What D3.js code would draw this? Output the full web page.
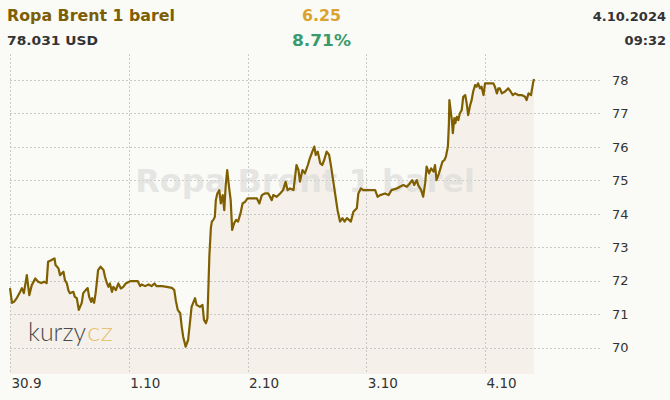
<!DOCTYPE html>
<html><head><meta charset="utf-8">
<script src="https://cdn.jsdelivr.net/npm/d3@7"></script>
<style>
html,body{margin:0;padding:0;background:#fafaf6;}
svg{display:block;}
text{font-family:"DejaVu Sans",Verdana,sans-serif;}
</style></head>
<body>
<svg id="c" width="670" height="400"></svg>
<script>
// ---- data ----
const title = "Ropa Brent 1 barel";
const priceLabel = "78.031 USD";
const changeAbs = "6.25";
const changePct = "8.71%";
const dateLabel = "4.10.2024";
const timeLabel = "09:32";
const xTickLabels = ["30.9","1.10","2.10","3.10","4.10"];
const yTickValues = [70,71,72,73,74,75,76,77,78];
// hours since 30.9.2024 00:00
const hours = [0,0.4,0.8,1.4,2.0,2.4,2.8,3.4,3.9,4.4,5.1,5.7,6.3,6.9,7.4,7.7,8.4,9.0,9.2,9.8,10.1,10.8,11.1,11.5,11.8,12.1,12.8,13.1,13.5,13.9,14.5,14.8,15.3,15.7,16.0,16.4,16.6,17.0,17.3,17.6,17.8,18.3,18.9,19.2,19.5,19.9,20.2,20.6,20.9,21.4,21.9,22.4,22.9,23.4,24.3,25.8,26.3,26.6,27.3,28.0,28.6,29.2,29.6,30.7,31.7,32.7,33.2,33.5,33.9,34.4,34.7,35.0,35.5,36.0,36.7,37.4,37.7,38.4,38.9,39.2,39.6,39.9,40.3,40.6,40.8,41.1,41.4,41.6,41.9,42.3,42.6,43.0,43.3,43.6,43.9,44.3,44.6,44.9,45.3,45.7,46.1,46.6,47.0,47.5,48.0,49.9,50.4,50.9,51.5,52.2,52.9,53.2,53.9,54.6,55.2,55.7,56.1,56.6,57.3,57.9,58.3,58.6,59.1,59.6,60.2,60.6,61.1,61.5,61.8,62.2,62.7,63.1,63.5,64.0,64.5,64.9,65.3,65.8,66.2,66.7,67.2,67.6,68.1,68.5,68.9,69.4,70.1,70.4,70.9,71.4,73.8,74.3,74.8,75.8,76.5,77.1,78.2,78.8,79.5,80.2,80.8,81.3,81.7,82.2,82.5,83.1,83.5,83.9,84.2,84.7,85.1,85.6,85.9,86.2,86.7,87.1,87.4,87.8,88.1,88.5,88.7,88.8,89.3,89.5,89.8,90.0,90.3,90.6,90.9,91.3,91.6,92.0,92.3,92.6,93.0,93.3,93.6,94.0,94.3,94.6,95.0,95.3,95.7,96.0,97.7,98.0,98.4,98.7,99.0,99.4,100.0,100.7,101.2,101.6,102.1,102.7,103.4,104.1,104.4,104.8,105.3,105.7,105.9];
const prices = [71.78,71.34,71.37,71.49,71.66,71.78,71.63,72.17,71.57,71.87,72.07,71.97,71.93,71.97,71.93,72.57,72.62,72.67,72.47,72.37,72.17,72.27,72.02,71.92,71.72,71.63,71.67,71.52,71.48,71.13,71.34,71.63,71.72,71.78,71.52,71.37,71.48,71.34,71.63,72.02,72.32,72.42,72.32,72.12,71.97,71.82,71.92,71.67,71.82,71.72,71.92,71.77,71.82,71.92,71.99,71.99,71.84,71.89,71.84,71.89,71.84,71.92,71.84,71.84,71.82,71.79,71.72,71.42,71.13,71.03,70.63,70.33,70.03,70.23,71.22,71.48,71.28,71.22,71.28,70.83,70.73,70.88,72.77,73.58,73.77,73.82,73.91,74.41,74.61,74.71,74.31,74.56,74.11,74.86,75.31,74.76,74.41,73.52,73.72,73.82,73.77,74.02,74.31,74.36,74.46,74.46,74.31,74.56,74.61,74.61,74.41,74.56,74.51,74.61,74.71,74.96,74.71,74.76,74.71,75.46,75.31,74.96,75.31,75.21,75.46,75.66,75.86,76.01,75.76,75.86,75.51,75.46,75.61,75.86,75.76,75.41,75.01,74.51,74.11,73.77,73.87,73.77,73.87,73.82,73.77,74.06,74.17,74.61,74.76,74.71,74.71,74.51,74.56,74.61,74.56,74.71,74.76,74.81,74.86,74.81,74.91,75.01,74.86,75.01,74.86,74.71,74.51,74.91,75.41,75.21,75.36,75.26,75.46,75.01,75.21,75.41,75.56,75.61,75.71,76.01,76.66,77.40,76.80,76.41,76.86,76.71,76.90,76.80,77.00,77.10,77.50,77.55,77.30,76.95,77.25,77.40,77.65,77.85,77.80,77.90,77.75,77.80,77.55,77.90,77.90,77.80,77.60,77.75,77.75,77.60,77.65,77.75,77.65,77.55,77.60,77.55,77.55,77.50,77.40,77.60,77.55,77.90,78.03];

// ---- layout ----
const svg = d3.select("#c");
const W = 670, H = 400;
const left = 10, dayW = 118.75, plotTop = 54, plotBottom = 374, gridRight = 600;
const t0 = new Date(2024, 8, 30);
const data = hours.map((h, i) => ({t: new Date(t0.getTime() + h * 3600e3), v: prices[i]}));

const x = d3.scaleTime().domain([t0, d3.timeDay.offset(t0, 5)]).range([left, left + 5 * dayW]);
const y = d3.scaleLinear().domain([70, 78]).range([347.7, 80]);

svg.append("rect").attr("width", W).attr("height", H).attr("fill", "#fafaf6");

// area fill
const area = d3.area().x(d => x(d.t)).y0(plotBottom).y1(d => y(d.v));
svg.append("path").datum(data).attr("d", area).attr("fill", "#f5f1ea");

// grid
const dayTicks = xTickLabels.map((_, i) => d3.timeDay.offset(t0, i));
svg.append("g").selectAll("line").data(yTickValues).join("line")
  .attr("x1", left).attr("x2", gridRight)
  .attr("y1", d => Math.round(y(d)) + 0.5).attr("y2", d => Math.round(y(d)) + 0.5)
  .attr("stroke", "#c9c9c6").attr("stroke-dasharray", "2,2").attr("stroke-width", 1);
svg.append("g").selectAll("line").data(dayTicks).join("line")
  .attr("x1", d => Math.round(x(d)) + 0.5).attr("x2", d => Math.round(x(d)) + 0.5)
  .attr("y1", plotTop).attr("y2", plotBottom)
  .attr("stroke", "#c9c9c6").attr("stroke-dasharray", "2,2").attr("stroke-width", 1);

// watermark
svg.append("text").text(title).attr("x", 305).attr("y", 192)
  .attr("text-anchor", "middle").attr("font-size", 32).attr("font-weight", "bold")
  .attr("fill", "#d8d8d6").attr("fill-opacity", 0.6);

// logo
svg.append("text").text("kurzy").attr("x", 28).attr("y", 341)
  .attr("font-weight", 300).attr("font-size", 25)
  .attr("fill", "#4a4a4a").attr("textLength", 58).attr("lengthAdjust", "spacingAndGlyphs")
  .style("font-family", "Lato");
svg.append("text").text("cz").attr("x", 87).attr("y", 341)
  .attr("font-weight", 300).attr("font-size", 25)
  .attr("fill", "#e6c274").attr("textLength", 26).attr("lengthAdjust", "spacingAndGlyphs")
  .style("font-family", "Lato");

// line
const line = d3.line().x(d => x(d.t)).y(d => y(d.v));
svg.append("path").datum(data).attr("d", line).attr("fill", "none")
  .attr("stroke", "#7f5f00").attr("stroke-width", 2.2).attr("stroke-linejoin", "round");

// axes labels
const xAxis = d3.axisBottom(x).tickValues(dayTicks).tickFormat((d, i) => xTickLabels[i]).tickSize(0);
const gx = svg.append("g").attr("transform", `translate(0,${plotBottom})`).call(xAxis);
gx.select(".domain").remove();
gx.selectAll("text").attr("text-anchor", "start").attr("dx", 1).attr("y", 14).attr("dy", 0)
  .attr("font-size", 13.5).attr("fill", "#333").style("font-family", "DejaVu Sans");

const yAxis = d3.axisRight(y).tickValues(yTickValues).tickFormat(d3.format("d")).tickSize(0);
const gy = svg.append("g").attr("transform", `translate(612,0)`).call(yAxis);
gy.select(".domain").remove();
gy.selectAll("text").attr("x", 0).attr("font-size", 13).attr("fill", "#333").style("font-family", "DejaVu Sans");

// header
function txt(s, xx, yy, size, color, anchor, len) {
  const t = svg.append("text").text(s).attr("x", xx).attr("y", yy)
    .attr("font-size", size).attr("font-weight", "bold").attr("fill", color)
    .attr("text-anchor", anchor || "start");
  if (len) t.attr("textLength", len).attr("lengthAdjust", "spacingAndGlyphs");
  return t;
}
txt(title, 7, 21, 16, "#7d5e05", "start", 168);
txt(changeAbs, 302, 21, 16, "#d9a32e", "start", 39);
txt(dateLabel, 666, 21, 13, "#333", "end");
txt(priceLabel, 7, 45, 13, "#333", "start", 91);
txt(changePct, 292, 46, 16.5, "#3a9a6c", "start", 59);
txt(timeLabel, 666, 45, 13, "#333", "end");
</script>
</body></html>
